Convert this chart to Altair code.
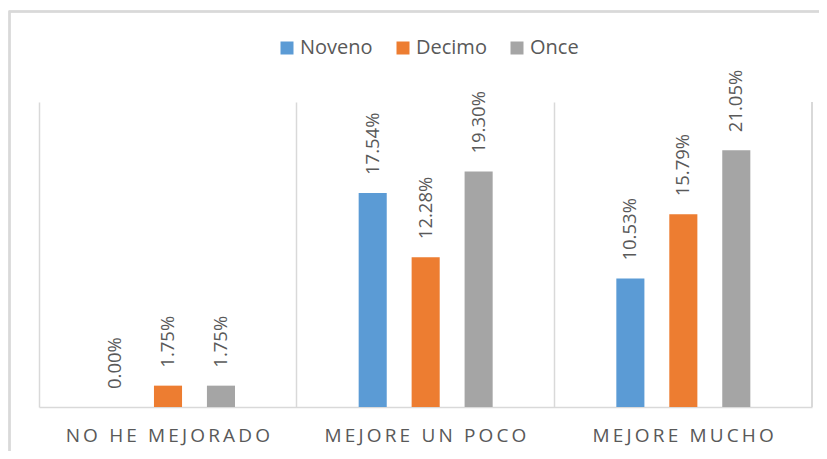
import altair as alt
import pandas as pd

categories = ["NO HE MEJORADO", "MEJORE UN POCO", "MEJORE MUCHO"]
series = ["Noveno", "Decimo", "Once"]
noveno = [0.00, 17.54, 10.53]
decimo = [1.75, 12.28, 15.79]
once = [1.75, 19.30, 21.05]
colors = ["#5B9BD5", "#ED7D31", "#A5A5A5"]

rows = []
for s, vals in zip(series, [noveno, decimo, once]):
    for c, v in zip(categories, vals):
        rows.append({"categoria": c, "serie": s, "valor": v})
df = pd.DataFrame(rows)

W, H = 773, 305
FONT = "Open Sans"
TXT = "#595959"
GRID = "#D9D9D9"

x_enc = alt.X(
    "categoria:N",
    sort=categories,
    title=None,
    scale=alt.Scale(paddingInner=0, paddingOuter=0),
    axis=alt.Axis(
        bandPosition=0,
        grid=True,
        gridColor=GRID,
        gridWidth=1.5,
        ticks=False,
        tickSize=0,
        domainColor=GRID,
        domainWidth=1.5,
        labelAngle=0,
        labelFont=FONT,
        labelFontSize=19,
        labelColor=TXT,
        labelPadding=19,
        labelLimit=0,
        labelExpr="join(split(datum.label, ''), '\u2009')",
    ),
)
xo_enc = alt.XOffset(
    "serie:N",
    sort=series,
    scale=alt.Scale(range=[62, 196], paddingInner=0.47, paddingOuter=0),
)
y_enc = alt.Y(
    "valor:Q",
    scale=alt.Scale(domain=[0, 25], nice=False),
    axis=None,
)

bars = alt.Chart(df).mark_bar().encode(
    x=x_enc,
    xOffset=xo_enc,
    y=y_enc,
    color=alt.Color(
        "serie:N",
        sort=series,
        scale=alt.Scale(domain=series, range=colors),
        legend=alt.Legend(
            title=None,
            orient="none",
            legendX=238,
            legendY=-64,
            direction="horizontal",
            symbolType="square",
            symbolSize=169,
            symbolStrokeWidth=0,
            labelFont=FONT,
            labelFontSize=20,
            labelColor=TXT,
            labelOffset=3,
            columnPadding=20,
        ),
    ),
)

labels = alt.Chart(df).transform_calculate(
    etiqueta="format(datum.valor, '.2f') + '%'"
).mark_text(
    angle=270,
    align="left",
    baseline="middle",
    dx=18,
    font=FONT,
    fontSize=18.5,
    color=TXT,
).encode(
    x=alt.X("categoria:N", sort=categories),
    xOffset=alt.XOffset("serie:N", sort=series),
    y=alt.Y("valor:Q"),
    text="etiqueta:N",
)

right_line = alt.Chart(df).mark_rule(color=GRID, strokeWidth=1.5).encode(
    x=alt.value(W), y=alt.value(0), y2=alt.value(H)
)

border = alt.Chart(df).mark_rect(
    fill=None, stroke=GRID, strokeWidth=1.5, clip=False
).encode(
    x=alt.value(-29.5), x2=alt.value(W + 60), y=alt.value(-90.5), y2=alt.value(H + 80)
)

chart = alt.layer(border, right_line, bars, labels).properties(
    width=W,
    height=H,
    autosize=alt.AutoSizeParams(type="none"),
    padding={"left": 31, "top": 94, "right": 7, "bottom": 44},
    background="white",
).configure_view(stroke=None)

chart.save("out.html", embed_options={"renderer": "svg", "actions": False})
